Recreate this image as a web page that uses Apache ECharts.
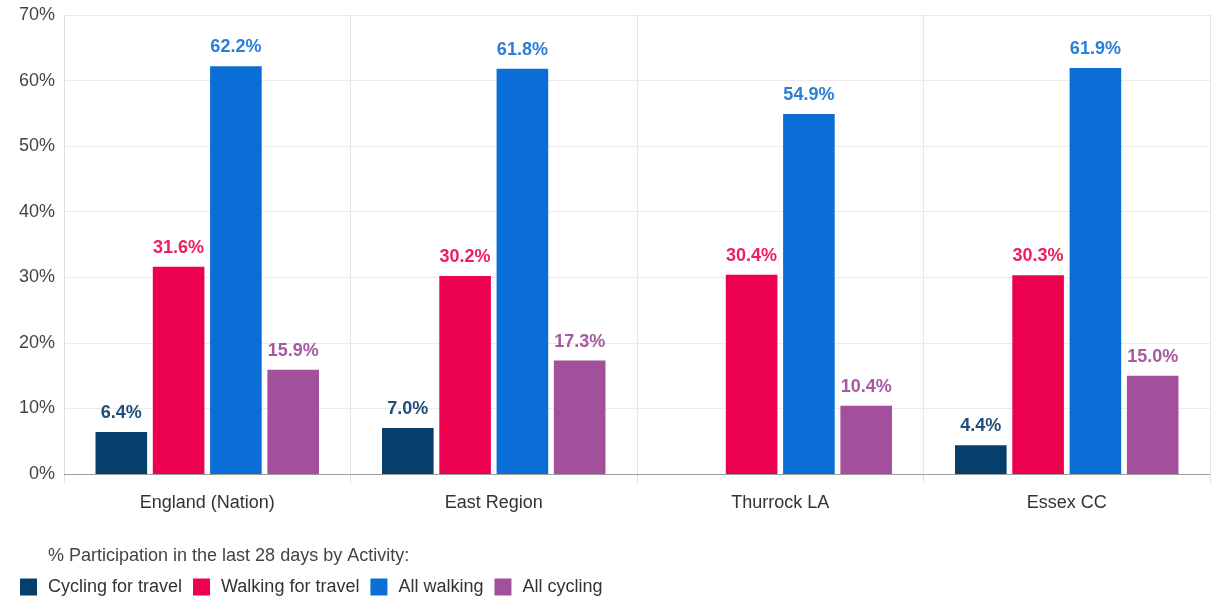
<!DOCTYPE html>
<html>
<head>
<meta charset="utf-8">
<script src="https://cdn.jsdelivr.net/npm/echarts@6/dist/echarts.min.js"></script>
<style>
  html, body { margin: 0; padding: 0; background: #fff; }
  #chart { width: 1214px; height: 598px; }
</style>
</head>
<body>
<div id="chart"></div>
<script>
// Areas compared
const categories = ['England (Nation)', 'East Region', 'Thurrock LA', 'Essex CC'];

// % participation in the last 28 days, by activity
const cyclingForTravel = [6.4, 7.0, null, 4.4];
const walkingForTravel = [31.6, 30.2, 30.4, 30.3];
const allWalking = [62.2, 61.8, 54.9, 61.9];
const allCycling = [15.9, 17.3, 10.4, 15.0];

const seriesNames = ['Cycling for travel', 'Walking for travel', 'All walking', 'All cycling'];
const seriesColors = ['#073f6c', '#ec0050', '#0a6ed6', '#a2509c'];
const labelColors = ['#1f4e7c', '#ec1e5c', '#2a7fd8', '#a65aa0'];
const seriesValues = [cyclingForTravel, walkingForTravel, allWalking, allCycling];

const FONT = '"Liberation Sans", Arial, sans-serif';
const FS = 18;

const chart = echarts.init(document.getElementById('chart'), null, { renderer: 'canvas' });

chart.setOption({
  animation: false,
  textStyle: { fontFamily: FONT },
  title: {
    text: '% Participation in the last 28 days by Activity:',
    left: 43,
    top: 542,
    textStyle: { fontFamily: FONT, fontSize: FS, fontWeight: 'normal', color: '#444' }
  },
  legend: {
    left: 15,
    top: 573,
    itemWidth: 17,
    itemHeight: 17,
    itemGap: 11,
    itemStyle: { borderWidth: 0 },
    icon: 'rect',
    textStyle: { fontFamily: FONT, fontSize: FS, color: '#333', padding: [0, 0, 0, 6] },
    data: seriesNames
  },
  grid: { left: 64, right: 4, top: 15, bottom: 124, containLabel: false },
  xAxis: {
    type: 'category',
    data: categories,
    axisLine: { show: false },
    axisTick: { show: true, length: 9, lineStyle: { color: '#e0e0e0' } },
    splitLine: { show: true, lineStyle: { color: '#e6e6e6' } },
    axisLabel: { fontFamily: FONT, fontSize: FS, color: '#333', margin: 20 }
  },
  yAxis: {
    type: 'value',
    min: 0,
    max: 70,
    interval: 10,
    axisLine: { show: true, lineStyle: { color: '#dddddd' } },
    axisTick: { show: false },
    splitLine: { lineStyle: { color: '#ebebeb' } },
    axisLabel: {
      fontFamily: FONT, fontSize: FS, color: '#444', margin: 9,
      formatter: v => v + '%'
    }
  },
  series: seriesNames.map((name, i) => ({
    name,
    type: 'bar',
    data: seriesValues[i],
    barGap: '11%',
    barCategoryGap: '22%',
    itemStyle: { color: seriesColors[i] },
    label: {
      show: true,
      position: 'top',
      distance: 10,
      fontFamily: FONT,
      fontSize: FS,
      fontWeight: 'bold',
      color: labelColors[i],
      formatter: p => p.value == null ? '' : p.value.toFixed(1) + '%'
    }
  })).concat([{
    // baseline at 0%
    type: 'line',
    data: [],
    markLine: {
      silent: true,
      symbol: 'none',
      label: { show: false },
      lineStyle: { color: '#9e9e9e', type: 'solid', width: 1 },
      data: [{ yAxis: 0 }]
    }
  }])
});
</script>
</body>
</html>
